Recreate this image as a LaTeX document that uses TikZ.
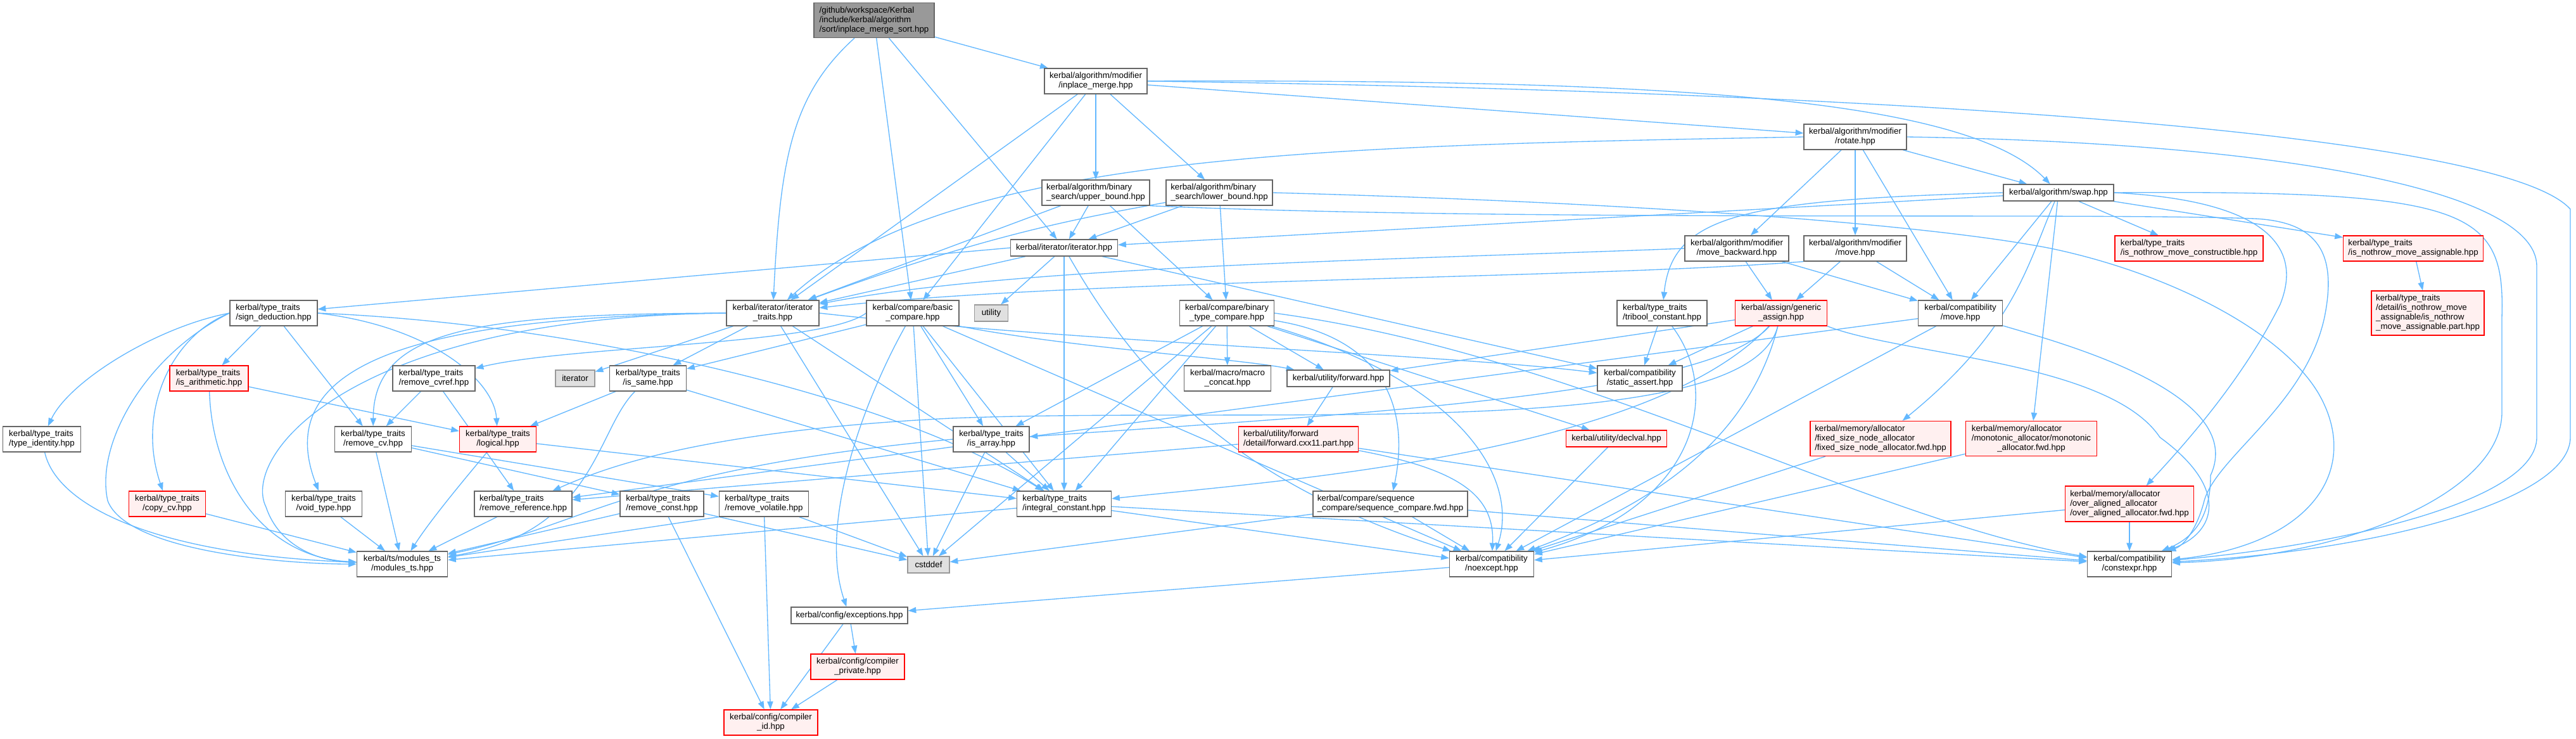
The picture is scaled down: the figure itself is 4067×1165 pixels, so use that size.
\documentclass[tikz,border=0pt]{standalone}
\usepackage{fontspec}
\setmainfont{Liberation Sans}
\usetikzlibrary{arrows.meta}
\definecolor{edgec}{HTML}{63B8FF}
\definecolor{gfour}{HTML}{666666}
\definecolor{gsix}{HTML}{999999}
\definecolor{extfill}{HTML}{E0E0E0}
\definecolor{redfill}{HTML}{FFF0F0}
\newcommand\mylab[2]{\begin{tabular}{@{}l@{}}#1\\\multicolumn{1}{@{}c@{}}{#2}\end{tabular}}
\pgfdeclarelayer{bgl}
\pgfdeclarelayer{edgel}
\pgfsetlayers{bgl,edgel,main}
\begin{document}
\begin{tikzpicture}[x=0.75pt,y=-0.75pt,
 every node/.style={font=\fontsize{10}{11.25}\selectfont, inner sep=0pt, line width=1pt, rectangle},
 sz/.style 2 args={minimum width=#1*0.75pt, minimum height=#2*0.75pt},
 nb/.style={draw=gfour, fill=white},
 rb/.style={draw=red, fill=redfill},
 xb/.style={draw=gsix, fill=extfill},
 rootb/.style={draw=gfour, fill=gsix},
 e/.style={draw=edgec, line width=1pt, -{Triangle[length=9.5pt,width=7pt]}},
]
\begin{pgfonlayer}{bgl}
\fill[white] (0,0) rectangle (4067,1165);
\end{pgfonlayer}
\useasboundingbox (0,0) rectangle (4067,1165);

% ---------------- nodes
\node[rootb,sz={190}{55}] (root) at (1380,32) {\mylab{/github/workspace/Kerbal\\/include/kerbal/algorithm}{/sort/inplace\_merge\_sort.hpp}};
\node[nb,sz={162}{40}] (im) at (1730,128) {\mylab{kerbal/algorithm/modifier}{/inplace\_merge.hpp}};
\node[nb,sz={162}{40}] (rot) at (2929,216) {\mylab{kerbal/algorithm/modifier}{/rotate.hpp}};
\node[nb,sz={174}{26}] (swap) at (3250,304) {kerbal/algorithm/swap.hpp};
\node[nb,sz={170}{40}] (ub) at (1730,304) {\mylab{kerbal/algorithm/binary}{\_search/upper\_bound.hpp}};
\node[nb,sz={168}{40}] (lb) at (1925,304) {\mylab{kerbal/algorithm/binary}{\_search/lower\_bound.hpp}};
\node[nb,sz={169}{26}] (it) at (1680,391) {kerbal/iterator/iterator.hpp};
\node[nb,sz={164}{40}] (mb) at (2742,392) {\mylab{kerbal/algorithm/modifier}{/move\_backward.hpp}};
\node[nb,sz={162}{40}] (mm) at (2929,392) {\mylab{kerbal/algorithm/modifier}{/move.hpp}};
\node[rb,sz={234}{40}] (nmc) at (3456,392) {\mylab{kerbal/type\_traits}{/is\_nothrow\_move\_constructible.hpp}};
\node[rb,sz={221}{40}] (nma) at (3810,392) {\mylab{kerbal/type\_traits}{/is\_nothrow\_move\_assignable.hpp}};
\node[rb,sz={178}{70}] (nmap) at (3833,494) {\mylab{kerbal/type\_traits\\/detail/is\_nothrow\_move\\\_assignable/is\_nothrow}{\_move\_assignable.part.hpp}};
\node[nb,sz={138}{40}] (sd) at (432,494) {\mylab{kerbal/type\_traits}{/sign\_deduction.hpp}};
\node[nb,sz={146}{40}] (itt) at (1220,494) {\mylab{kerbal/iterator/iterator}{\_traits.hpp}};
\node[nb,sz={146}{40}] (bc) at (1441,494) {\mylab{kerbal/compare/basic}{\_compare.hpp}};
\node[xb,sz={53}{26}] (util) at (1565,494) {utility};
\node[nb,sz={149}{40}] (btc) at (1937,494) {\mylab{kerbal/compare/binary}{\_type\_compare.hpp}};
\node[nb,sz={142}{40}] (tri) at (2624,494) {\mylab{kerbal/type\_traits}{/tribool\_constant.hpp}};
\node[rb,sz={145}{40}] (ga) at (2812,494) {\mylab{kerbal/assign/generic}{\_assign.hpp}};
\node[nb,sz={133}{40}] (cm) at (3095,494) {\mylab{kerbal/compatibility}{/move.hpp}};
\node[rb,sz={124}{40}] (isar) at (330,597) {\mylab{kerbal/type\_traits}{/is\_arithmetic.hpp}};
\node[nb,sz={130}{40}] (rcvref) at (685,597) {\mylab{kerbal/type\_traits}{/remove\_cvref.hpp}};
\node[xb,sz={62}{26}] (iterx) at (908,597) {iterator};
\node[nb,sz={121}{40}] (same) at (1023,597) {\mylab{kerbal/type\_traits}{/is\_same.hpp}};
\node[nb,sz={137}{40}] (mc) at (1938,597) {\mylab{kerbal/macro/macro}{\_concat.hpp}};
\node[nb,sz={162}{26}] (fwd) at (2113,597) {kerbal/utility/forward.hpp};
\node[nb,sz={134}{40}] (sa) at (2589,597) {\mylab{kerbal/compatibility}{/static\_assert.hpp}};
\node[nb,sz={123}{40}] (ti) at (66,693) {\mylab{kerbal/type\_traits}{/type\_identity.hpp}};
\node[nb,sz={121}{40}] (rcv) at (589,693) {\mylab{kerbal/type\_traits}{/remove\_cv.hpp}};
\node[rb,sz={121}{40}] (logi) at (786,693) {\mylab{kerbal/type\_traits}{/logical.hpp}};
\node[nb,sz={120}{40}] (arr) at (1565,693) {\mylab{kerbal/type\_traits}{/is\_array.hpp}};
\node[rb,sz={189}{40}] (fwdp) at (2050,693) {\mylab{kerbal/utility/forward}{/detail/forward.cxx11.part.hpp}};
\node[rb,sz={159}{26}] (decl) at (2552,692) {kerbal/utility/declval.hpp};
\node[rb,sz={222}{55}] (fsn) at (2969,692) {\mylab{kerbal/memory/allocator\\/fixed\_size\_node\_allocator}{/fixed\_size\_node\_allocator.fwd.hpp}};
\node[rb,sz={207}{55}] (mono) at (3207,692) {\mylab{kerbal/memory/allocator\\/monotonic\_allocator/monotonic}{\_allocator.fwd.hpp}};
\node[rb,sz={121}{40}] (ccv) at (264,795) {\mylab{kerbal/type\_traits}{/copy\_cv.hpp}};
\node[nb,sz={121}{40}] (vt) at (511,795) {\mylab{kerbal/type\_traits}{/void\_type.hpp}};
\node[nb,sz={154}{40}] (rref) at (826,795) {\mylab{kerbal/type\_traits}{/remove\_reference.hpp}};
\node[nb,sz={132}{40}] (rconst) at (1045,795) {\mylab{kerbal/type\_traits}{/remove\_const.hpp}};
\node[nb,sz={141}{40}] (rvol) at (1206,795) {\mylab{kerbal/type\_traits}{/remove\_volatile.hpp}};
\node[nb,sz={149}{40}] (ic) at (1680,795) {\mylab{kerbal/type\_traits}{/integral\_constant.hpp}};
\node[nb,sz={244}{40}] (scf) at (2195,795) {\mylab{kerbal/compare/sequence}{\_compare/sequence\_compare.fwd.hpp}};
\node[rb,sz={203}{56}] (oaa) at (3362,795) {\mylab{kerbal/memory/allocator\\/over\_aligned\_allocator}{/over\_aligned\_allocator.fwd.hpp}};
\node[nb,sz={143}{40}] (mts) at (635,890) {\mylab{kerbal/ts/modules\_ts}{/modules\_ts.hpp}};
\node[xb,sz={66}{26}] (cstd) at (1466,891) {cstddef};
\node[nb,sz={133}{40}] (noex) at (2355,890) {\mylab{kerbal/compatibility}{/noexcept.hpp}};
\node[nb,sz={133}{40}] (cexpr) at (3362,890) {\mylab{kerbal/compatibility}{/constexpr.hpp}};
\node[nb,sz={184}{26}] (exc) at (1341,971) {kerbal/config/exceptions.hpp};
\node[rb,sz={148}{40}] (cpriv) at (1354,1052) {\mylab{kerbal/config/compiler}{\_private.hpp}};
\node[rb,sz={148}{40}] (cid) at (1217,1140) {\mylab{kerbal/config/compiler}{\_id.hpp}};

% ---------------- edges
\begin{pgfonlayer}{edgel}
% root
\draw[e] (root) -- (im);
\draw[e] (root) .. controls (1250,150) and (1232,250) .. (itt);
\draw[e] (root) -- (bc);
\draw[e] (root) -- (it);
% inplace_merge
\draw[e] (im) -- (ub);
\draw[e] (im) -- (lb);
\draw[e] (im) -- (rot);
\draw[e] (im) -- (itt);
\draw[e] (im) -- (bc);
\draw[e] (im.east) .. controls (2600,125) and (3100,150) .. (swap);
\draw[e] (im.east) .. controls (3000,145) and (3950,210) .. (4058,330) -- (4058,690) .. controls (4058,790) and (3750,870) .. (cexpr);
% binary search
\draw[e] (ub) -- (it);
\draw[e] (ub) -- (itt);
\draw[e] (ub) -- (btc);
\draw[e] (ub.south east) .. controls (2400,350) and (3300,335) .. (3560,345) .. controls (3660,350) and (3690,400) .. (3670,500) .. controls (3640,640) and (3500,720) .. (3480,790) .. controls (3470,830) and (3450,860) .. (cexpr);
\draw[e] (lb) -- (it);
\draw[e] (lb) .. controls (1700,345) and (1560,370) .. (itt);
\draw[e] (lb) -- (btc);
\draw[e] (lb.east) .. controls (2600,320) and (3050,355) .. (3238,392) .. controls (3420,430) and (3600,520) .. (3660,620) .. controls (3730,740) and (3650,860) .. (cexpr);
% rotate
\draw[e] (rot) -- (mb);
\draw[e] (rot) -- (mm);
\draw[e] (rot) -- (swap);
\draw[e] (rot) -- (cm);
\draw[e] (rot.west) .. controls (2100,230) and (1500,240) .. (itt);
\draw[e] (rot.east) .. controls (3600,225) and (4005,300) .. (4005,420) -- (4005,690) .. controls (4005,790) and (3700,860) .. (cexpr);
% move_backward, move
\draw[e] (mb) -- (ga);
\draw[e] (mb) -- (cm);
\draw[e] (mb.west) .. controls (2200,410) and (1600,420) .. (itt);
\draw[e] (mm) -- (ga);
\draw[e] (mm) -- (cm);
\draw[e] (mm.south west) .. controls (2500,440) and (1700,440) .. (itt);
% swap
\draw[e] (swap) -- (it);
\draw[e] (swap.west) .. controls (2750,315) and (2640,340) .. (tri);
\draw[e] (swap) -- (cm);
\draw[e] (swap) .. controls (3200,420) and (3180,520) .. (fsn);
\draw[e] (swap) -- (mono);
\draw[e] (swap) -- (nmc);
\draw[e] (swap) -- (nma);
\draw[e] (swap.east) .. controls (3560,315) and (3640,380) .. (3600,480) .. controls (3540,600) and (3450,700) .. (oaa);
\draw[e] (swap.east) .. controls (3900,300) and (3955,330) .. (3950,500) -- (3950,650) .. controls (3950,780) and (3700,880) .. (cexpr);
\draw[e] (nma) -- (nmap);
% iterator.hpp
\draw[e] (it) -- (itt);
\draw[e] (it.west) -- (sd);
\draw[e] (it) -- (util);
\draw[e] (it) -- (ic);
\draw[e] (it) .. controls (1800,600) and (1950,760) .. (noex);
\draw[e] (it) -- (sa);
% iterator_traits
\draw[e] (itt) -- (iterx);
\draw[e] (itt) -- (same);
\draw[e] (itt.west) .. controls (750,495) and (590,520) .. (rcv);
\draw[e] (itt.west) .. controls (700,500) and (420,560) .. (vt);
\draw[e] (itt.west) .. controls (550,500) and (380,720) .. (420,800) .. controls (440,860) and (500,885) .. (mts);
\draw[e] (itt) -- (ic);
\draw[e] (itt) -- (cstd);
\draw[e] (itt.east) .. controls (1700,540) and (2300,560) .. (sa);
% sign_deduction
\draw[e] (sd) -- (isar);
\draw[e] (sd) -- (rcv);
\draw[e] (sd.west) .. controls (250,515) and (110,600) .. (ti);
\draw[e] (sd.west) .. controls (270,530) and (215,650) .. (ccv);
\draw[e] (sd.west) .. controls (230,560) and (150,700) .. (170,790) .. controls (200,870) and (450,890) .. (mts);
\draw[e] (sd.east) .. controls (680,515) and (780,600) .. (logi);
\draw[e] (sd.east) .. controls (900,510) and (1400,620) .. (ic);
% small type traits
\draw[e] (isar) -- (logi);
\draw[e] (isar) .. controls (335,760) and (420,880) .. (mts);
\draw[e] (rcvref) -- (rcv);
\draw[e] (rcvref) -- (rref);
\draw[e] (same) -- (logi);
\draw[e] (same) -- (ic);
\draw[e] (same) .. controls (940,680) and (940,840) .. (mts);
\draw[e] (ti) .. controls (90,800) and (250,875) .. (mts);
\draw[e] (ccv) -- (mts);
\draw[e] (vt) -- (mts);
\draw[e] (rcv) -- (mts);
\draw[e] (rcv) -- (rconst);
\draw[e] (rcv) -- (rvol);
\draw[e] (logi) .. controls (730,760) and (680,820) .. (mts);
\draw[e] (logi) -- (ic);
\draw[e] (rref) -- (mts);
\draw[e] (rconst) -- (mts);
\draw[e] (rconst) -- (cstd);
\draw[e] (rconst) -- (cid);
\draw[e] (rvol.south west) -- (mts);
\draw[e] (rvol) -- (cstd);
\draw[e] (rvol) -- (cid);
\draw[e] (ic) -- (mts);
\draw[e] (ic) -- (noex);
\draw[e] (ic) -- (cexpr);
\draw[e] (arr) -- (ic);
\draw[e] (arr) -- (cstd);
\draw[e] (arr.west) .. controls (1000,740) and (920,830) .. (mts);
% basic_compare
\draw[e] (bc) -- (same);
\draw[e] (bc) -- (cstd);
\draw[e] (bc) -- (arr);
\draw[e] (bc) -- (ic);
\draw[e] (bc) .. controls (1370,620) and (1290,820) .. (exc);
\draw[e] (bc.west) .. controls (1300,545) and (900,545) .. (rcvref);
\draw[e] (bc.south east) .. controls (1700,550) and (1950,565) .. (fwd);
\draw[e] (bc) -- (noex);
% binary_type_compare
\draw[e] (btc) -- (mc);
\draw[e] (btc) -- (arr);
\draw[e] (btc) -- (ic);
\draw[e] (btc) -- (fwd);
\draw[e] (btc) -- (decl);
\draw[e] (btc) .. controls (2230,540) and (2215,700) .. (scf);
\draw[e] (btc) .. controls (2300,600) and (2400,750) .. (noex);
\draw[e] (btc) -- (cstd);
\draw[e] (btc.east) .. controls (2500,560) and (2950,820) .. (cexpr);
% tribool
\draw[e] (tri) -- (sa);
\draw[e] (tri) .. controls (2720,620) and (2680,800) .. (noex);
% generic_assign
\draw[e] (ga) -- (sa);
\draw[e] (ga) -- (fwd);
\draw[e] (ga) .. controls (2700,620) and (2200,650) .. (arr);
\draw[e] (ga) .. controls (2600,720) and (2000,760) .. (ic);
\draw[e] (ga) .. controls (2760,700) and (2000,640) .. (1500,660) .. controls (1100,680) and (950,740) .. (rref);
\draw[e] (ga) .. controls (2760,700) and (2600,800) .. (noex);
\draw[e] (ga.south east) .. controls (3000,560) and (3330,570) .. (3410,690) .. controls (3520,770) and (3500,840) .. (cexpr);
% compatibility/move
\draw[e] (cm) -- (rref);
\draw[e] (cm) -- (noex);
\draw[e] (cm) .. controls (3250,540) and (3550,620) .. (3490,750) .. controls (3490,820) and (3460,850) .. (cexpr);
% utility etc.
\draw[e] (fwd) -- (fwdp);
\draw[e] (fwdp) -- (rref);
\draw[e] (fwdp) .. controls (2300,740) and (2360,780) .. (noex);
\draw[e] (fwdp) -- (cexpr);
\draw[e] (decl) -- (noex);
\draw[e] (fsn) -- (noex);
\draw[e] (mono) -- (noex);
\draw[e] (oaa) -- (cexpr);
\draw[e] (oaa) -- (noex);
\draw[e] (scf) -- (noex);
\draw[e] (scf) -- (cexpr);
\draw[e] (scf) -- (cstd);
\draw[e] (noex) -- (exc);
\draw[e] (exc) -- (cpriv);
\draw[e] (exc) -- (cid);
\draw[e] (cpriv) -- (cid);
\end{pgfonlayer}
\end{tikzpicture}
\end{document}
